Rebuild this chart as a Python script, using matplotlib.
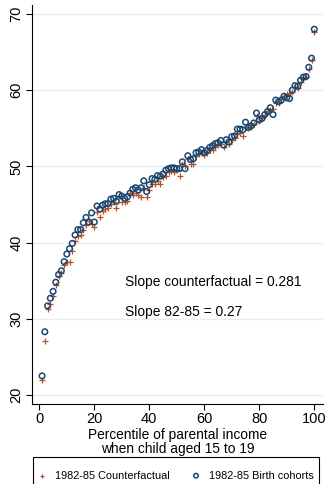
import matplotlib.pyplot as plt
from matplotlib.patches import Rectangle
import numpy as np

plt.rcParams['font.family'] = ['Liberation Sans', 'DejaVu Sans']

percentile = np.arange(1, 101)

birth_cohorts = [22.5, 28.3, 31.7, 32.7, 33.6, 34.8, 35.8, 36.3, 37.5, 38.5,
                 39.2, 39.9, 41.0, 41.7, 41.7, 42.6, 43.3, 42.7, 43.9, 42.7,
                 44.8, 44.4, 44.9, 45.1, 45.1, 45.7, 45.8, 45.4, 46.3, 46.1,
                 45.8, 46.0, 46.5, 47.0, 47.2, 46.9, 47.2, 48.1, 46.7, 47.6,
                 48.4, 48.3, 48.8, 48.7, 49.0, 49.5, 49.7, 49.8, 49.8, 49.7,
                 49.7, 50.6, 49.7, 51.4, 50.9, 51.0, 51.8, 51.9, 52.2, 51.8,
                 52.1, 52.5, 52.7, 53.0, 53.1, 53.4, 52.8, 53.5, 53.2, 53.9,
                 54.0, 54.9, 54.9, 54.8, 55.8, 55.1, 55.3, 55.7, 57.0, 56.1,
                 56.3, 56.8, 57.2, 57.7, 56.8, 58.7, 58.5, 58.7, 59.2, 59.0,
                 58.9, 60.0, 60.6, 60.5, 61.3, 61.7, 61.8, 63.0, 64.2, 68.0]

counterfactual = [22.0, 27.1, 31.3, 32.0, 33.0, 34.5, 35.6, 36.0, 37.0, 37.5,
                  37.5, 38.9, 40.2, 40.9, 41.0, 41.6, 42.3, 42.8, 42.4, 42.0,
                  44.0, 43.4, 44.1, 44.4, 44.6, 45.1, 45.3, 44.6, 46.1, 45.3,
                  45.3, 45.4, 46.5, 46.3, 46.5, 46.3, 46.0, 47.2, 46.0, 46.9,
                  47.7, 47.7, 48.1, 47.7, 48.6, 48.8, 49.2, 49.4, 49.2, 49.5,
                  48.8, 50.3, 50.1, 51.0, 50.3, 50.3, 51.4, 51.6, 51.7, 51.5,
                  51.8, 52.1, 52.2, 52.6, 52.8, 53.0, 52.6, 53.2, 53.0, 53.5,
                  53.7, 54.3, 54.4, 54.0, 55.2, 55.0, 55.2, 55.5, 56.6, 56.0,
                  56.3, 56.8, 57.3, 57.4, 57.5, 58.3, 58.3, 58.8, 59.3, 59.5,
                  59.6, 59.8, 60.4, 60.3, 61.1, 61.6, 61.7, 62.8, 63.9, 67.6]

slope_cf = 0.281
slope_82 = 0.27

navy = '#1a476f'
orange = '#b5522a'

fig = plt.figure(figsize=(3.27, 4.84), dpi=100)
ax = fig.add_axes([0.098, 0.165, 0.89, 0.825])

ax.scatter(percentile, counterfactual, marker='+', s=14, color=orange,
           linewidths=0.9, label='1982-85 Counterfactual', zorder=3)
ax.scatter(percentile, birth_cohorts, marker='o', s=16, facecolors='none',
           edgecolors=navy, linewidths=1.1, label='1982-85 Birth cohorts', zorder=4)

ax.text(31, 34.8, 'Slope counterfactual = %.3f' % slope_cf, fontsize=9.9, va='center')
ax.text(31, 30.9, 'Slope 82-85 = %.2f' % slope_82, fontsize=9.9, va='center')

ax.set_xlim(-2.65, 103.2)
ax.set_ylim(18.8, 71.2)
ax.set_xticks([0, 20, 40, 60, 80, 100])
ax.set_yticks([20, 30, 40, 50, 60, 70])
ax.tick_params(axis='both', labelsize=10.5, length=4, width=0.8, pad=2)
for lab in ax.get_yticklabels():
    lab.set_rotation(90)
    lab.set_va('center')
ax.grid(axis='y', color='#e6eef0', linewidth=1)
ax.set_axisbelow(True)
ax.spines['top'].set_visible(False)
ax.spines['right'].set_visible(False)
ax.set_xlabel('Percentile of parental income\nwhen child aged 15 to 19',
              fontsize=9.9, labelpad=1, linespacing=1.0)

# legend box runs off the bottom edge like in the original
fig.patches.append(Rectangle((0.101, -0.02), 0.875, 0.0758, transform=fig.transFigure,
                             fill=False, edgecolor='black', linewidth=0.8))
leg = fig.legend(loc='center', bbox_to_anchor=(0.536, 0.0175), ncol=2,
                 fontsize=7.8, frameon=False, handletextpad=0.7,
                 columnspacing=1.9, handlelength=1.0, markerscale=0.8)

fig.savefig('out.png', dpi=100)
